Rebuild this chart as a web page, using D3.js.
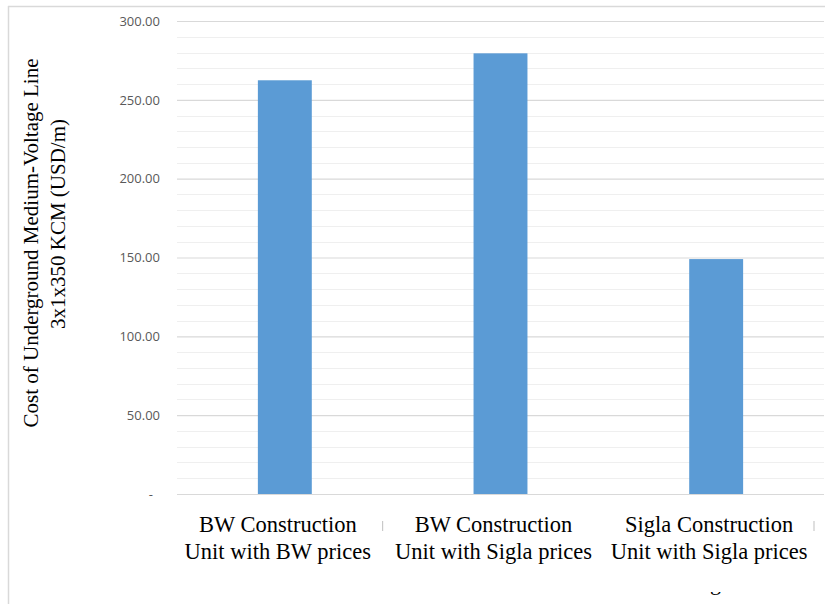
<!DOCTYPE html>
<html>
<head>
<meta charset="utf-8">
<script src="https://cdn.jsdelivr.net/npm/d3@7"></script>
<style>
  html, body { margin: 0; padding: 0; background: #fff; }
  svg { display: block; }
</style>
</head>
<body>
<script>
// Cost per metre of an underground medium-voltage line, by construction unit and price source
const categories = [
  ["BW Construction", "Unit with BW prices"],
  ["BW Construction", "Unit with Sigla prices"],
  ["Sigla Construction", "Unit with Sigla prices"]
];
const costs = [262.4, 279.5, 149.0];
const yTicks = [0, 50, 100, 150, 200, 250, 300];
const yMinorTicks = d3.range(0, 301, 10);
const yTitle = ["Cost of Underground Medium-Voltage Line", "3x1x350 KCM (USD/m)"];

const W = 825, H = 604;
const plot = { left: 177, right: 824, top: 21, bottom: 494 };

const svg = d3.select("body").append("svg")
  .attr("width", W).attr("height", H);

// chart frame (top and left edges visible)
svg.append("line").attr("x1", 8).attr("x2", W).attr("y1", 6.5).attr("y2", 6.5)
  .attr("stroke", "#d9d9d9").attr("stroke-width", 1.5);
svg.append("line").attr("x1", 8.5).attr("x2", 8.5).attr("y1", 6).attr("y2", H)
  .attr("stroke", "#d9d9d9").attr("stroke-width", 1.5);

const x = d3.scaleBand()
  .domain(d3.range(categories.length))
  .range([plot.left, plot.right])
  .paddingInner(0.75)
  .paddingOuter(0.375);

const y = d3.scaleLinear().domain([0, 300]).range([plot.bottom, plot.top]);

// minor gridlines
svg.append("g").selectAll("line")
  .data(yMinorTicks.filter(v => v % 50 !== 0))
  .join("line")
  .attr("x1", plot.left).attr("x2", plot.right)
  .attr("y1", d => Math.round(y(d)) + 0.5).attr("y2", d => Math.round(y(d)) + 0.5)
  .attr("stroke", "#efefef").attr("stroke-width", 1.2);

// y axis with major gridlines
const yAxis = d3.axisLeft(y)
  .tickValues(yTicks)
  .tickSize(-(plot.right - plot.left))
  .tickPadding(17)
  .tickFormat(d => d === 0 ? "-" : d3.format(".2f")(d));

const gy = svg.append("g")
  .attr("transform", `translate(${plot.left},0)`)
  .call(yAxis);
gy.select(".domain").remove();
gy.selectAll(".tick line").attr("stroke", "#d9d9d9").attr("stroke-width", 1.2);
gy.selectAll(".tick text")
  .attr("fill", "#595959")
  .style("font-family", "'Open Sans', 'Liberation Sans', sans-serif")
  .style("font-size", "13px")
  .attr("dx", d => d === 0 ? -7 : 0);

// bars
svg.append("g").selectAll("rect")
  .data(costs)
  .join("rect")
  .attr("x", (d, i) => x(i))
  .attr("width", x.bandwidth())
  .attr("y", d => y(d))
  .attr("height", d => y(0) - y(d))
  .attr("fill", "#5b9bd5");

// category axis line
svg.append("line")
  .attr("x1", plot.left).attr("x2", plot.right)
  .attr("y1", y(0) + 0.5).attr("y2", y(0) + 0.5)
  .attr("stroke", "#d9d9d9").attr("stroke-width", 1.2);

// category labels
const serif = "'Liberation Serif', 'Times New Roman', serif";
const labels = svg.append("g").selectAll("text")
  .data(categories)
  .join("text")
  .attr("x", (d, i) => x(i) + x.bandwidth() / 2 - 7)
  .attr("y", 532)
  .attr("text-anchor", "middle")
  .attr("fill", "#000")
  .style("font-family", serif)
  .style("font-size", "22.5px");
labels.selectAll("tspan")
  .data(d => d)
  .join("tspan")
  .attr("x", function () { return d3.select(this.parentNode).attr("x"); })
  .attr("dy", (d, i) => i === 0 ? 0 : 27)
  .text(d => d);

// small separators between category labels
svg.append("g").selectAll("line")
  .data([0, 2])
  .join("line")
  .attr("x1", i => x(i) + x.bandwidth() / 2 + x.step() / 2 - 10)
  .attr("x2", i => x(i) + x.bandwidth() / 2 + x.step() / 2 - 10)
  .attr("y1", 521).attr("y2", 531)
  .attr("stroke", "#bfbfbf").attr("stroke-width", 1);

// y title (two rotated lines)
const titleCenters = [[31, 243], [58, 224]];
svg.append("g").selectAll("text")
  .data(yTitle)
  .join("text")
  .attr("transform", (d, i) => `translate(${titleCenters[i][0]},${titleCenters[i][1]}) rotate(-90)`)
  .attr("text-anchor", "middle")
  .attr("dominant-baseline", "central")
  .attr("fill", "#000")
  .style("font-family", serif)
  .style("font-size", "21px")
  .text(d => d);

// caption below the chart, cut off by the frame
svg.append("clipPath").attr("id", "cap-clip")
  .append("rect").attr("x", 0).attr("y", 592).attr("width", W).attr("height", H - 592);
svg.append("text")
  .attr("clip-path", "url(#cap-clip)")
  .attr("x", 710).attr("y", 590)
  .attr("fill", "#000")
  .style("font-family", serif)
  .style("font-size", "22px")
  .text("g");
</script>
</body>
</html>
